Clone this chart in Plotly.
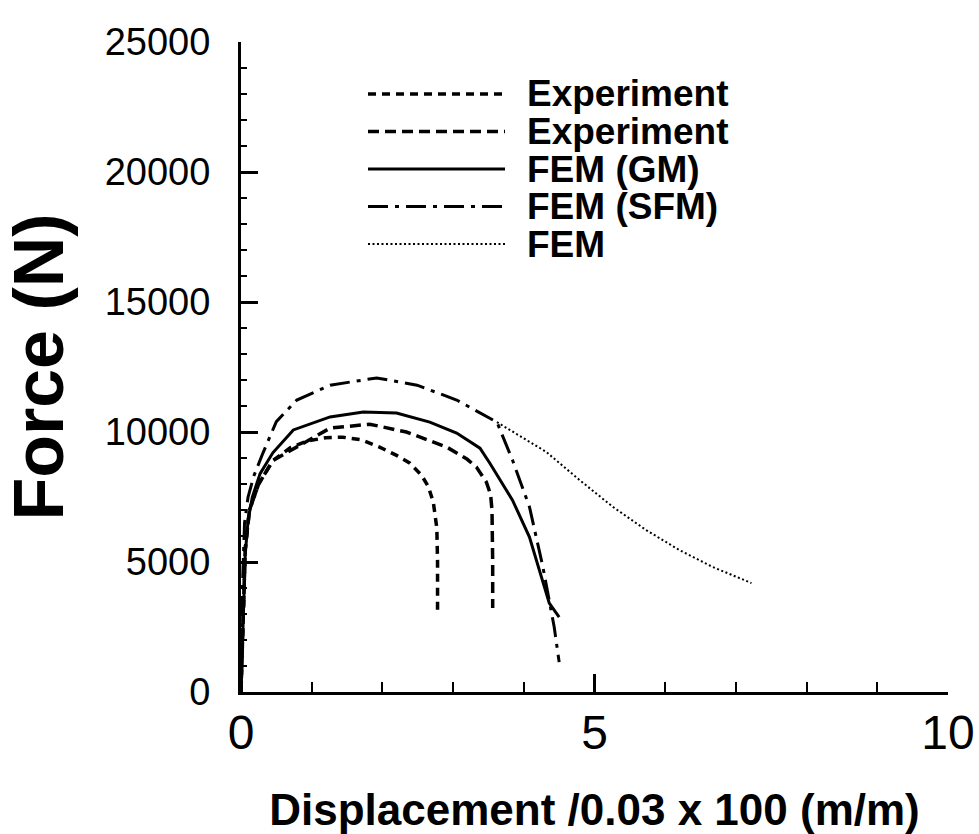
import plotly.graph_objects as go

# ---------------- data ----------------
exp1_x = [0, 0.03, 0.06, 0.12, 0.25, 0.45, 0.70, 0.93, 1.20, 1.44, 1.70, 1.96, 2.20, 2.39, 2.55, 2.65, 2.72, 2.77, 2.78, 2.78]
exp1_y = [0, 3000, 5500, 7000, 8000, 8900, 9400, 9650, 9780, 9800, 9700, 9420, 9100, 8800, 8350, 7900, 7300, 6300, 5000, 3100]

exp2_x = [0, 0.03, 0.06, 0.12, 0.25, 0.45, 0.79, 1.26, 1.82, 2.34, 2.91, 3.20, 3.33, 3.47, 3.53, 3.55, 3.56, 3.56]
exp2_y = [0, 3000, 5500, 7000, 8000, 8900, 9420, 10150, 10300, 10000, 9420, 8950, 8650, 8080, 7600, 7000, 5000, 3230]

gm_x = [0, 0.03, 0.06, 0.10, 0.16, 0.27, 0.45, 0.74, 1.26, 1.73, 2.20, 2.67, 3.05, 3.38, 3.52, 3.84, 4.08, 4.36, 4.50]
gm_y = [0, 3000, 5300, 6600, 7500, 8400, 9200, 10080, 10580, 10770, 10730, 10380, 9960, 9380, 8800, 7380, 5960, 3420, 2880]

sfm_x = [0, 0.02, 0.05, 0.10, 0.18, 0.31, 0.50, 0.79, 1.26, 1.92, 2.49, 3.05, 3.62, 3.84, 4.08, 4.27, 4.43, 4.50]
sfm_y = [0, 4000, 6500, 7500, 8300, 9190, 10400, 11230, 11800, 12080, 11800, 11230, 10380, 8920, 7120, 4810, 2500, 1150]

fem_x = [3.62, 4.32, 4.79, 5.26, 5.73, 6.20, 6.67, 7.00, 7.22]
fem_y = [10380, 9230, 8150, 7120, 6230, 5460, 4810, 4450, 4190]

names = ["Experiment", "Experiment", "FEM (GM)", "FEM (SFM)", "FEM"]
xs = [exp1_x, exp2_x, gm_x, sfm_x, fem_x]
ys = [exp1_y, exp2_y, gm_y, sfm_y, fem_y]

x_ticks = [0, 5, 10]
y_ticks = [0, 5000, 10000, 15000, 20000, 25000]

# ---------------- styles ----------------
dashes = ["8px,6px", "11px,6px", "solid", "20px,7px,4px,7px", "2px,2.5px"]
widths = [3.5, 3.5, 3, 3, 2]
FONT = "Liberation Sans, Arial, sans-serif"

fig = go.Figure()
for x, y, n, d, w in zip(xs, ys, names, dashes, widths):
    fig.add_trace(go.Scatter(x=x, y=y, mode="lines", name=n, showlegend=False,
                             line=dict(color="black", width=w, dash=d)))

# plot-area geometry in pixels
W, H = 979, 834
L, R, T, B = 241, 31, 42, 142
PW, PH = W - L - R, H - T - B

def px_to_paper(px, py):
    return (px - L) / PW, (H - B - py) / PH

# hand-drawn legend (like the original figure)
LEG_X0, LEG_X1, LEG_TX, LEG_Y0, LEG_DY = 368, 505, 525, 94, 37.5
shapes = []
annotations = []
for i, (n, d, w) in enumerate(zip(names, dashes, widths)):
    py = LEG_Y0 + i * LEG_DY
    x0, yp = px_to_paper(LEG_X0, py)
    x1, _ = px_to_paper(LEG_X1, py)
    xt, _ = px_to_paper(LEG_TX, py)
    shapes.append(dict(type="line", xref="paper", yref="paper", x0=x0, x1=x1, y0=yp, y1=yp,
                       line=dict(color="black", width=w, dash=d)))
    annotations.append(dict(xref="paper", yref="paper", x=xt, y=yp, text=n, showarrow=False,
                            xanchor="left", yanchor="middle",
                            font=dict(family=FONT, size=37, color="black", weight="bold")))

fig.update_layout(
    width=W, height=H,
    margin=dict(l=L, r=R, t=T, b=B, autoexpand=False),
    paper_bgcolor="white", plot_bgcolor="white",
    shapes=shapes, annotations=annotations,
    showlegend=False,
)

fig.update_xaxes(
    range=[0, 10], tickvals=x_ticks, ticktext=[str(v) for v in x_ticks],
    automargin=False,
    showgrid=False, zeroline=False, showline=True, linecolor="black", linewidth=3,
    ticks="inside", ticklen=18, tickwidth=3, tickcolor="black",
    minor=dict(ticks="inside", dtick=1, ticklen=10, tickwidth=1.5, tickcolor="black", showgrid=False),
    tickfont=dict(family=FONT, size=48, color="black"),
    ticklabelstandoff=-4,
    title=dict(text="Displacement /0.03 x 100 (m/m)", standoff=42,
               font=dict(family=FONT, size=44, color="black", weight="bold")),
)
fig.update_yaxes(
    range=[0, 25000], tickvals=y_ticks, ticktext=[str(v) for v in y_ticks],
    automargin=False,
    showgrid=False, zeroline=False, showline=True, linecolor="black", linewidth=3,
    ticks="inside", ticklen=17, tickwidth=3, tickcolor="black",
    minor=dict(ticks="inside", dtick=1000, ticklen=6, tickwidth=1.5, tickcolor="black", showgrid=False),
    tickfont=dict(family=FONT, size=38, color="black"),
    ticklabelstandoff=20,
    title=dict(text="Force (N)", standoff=22,
               font=dict(family=FONT, size=70, color="black", weight="bold")),
)

fig.write_html("out.html")
